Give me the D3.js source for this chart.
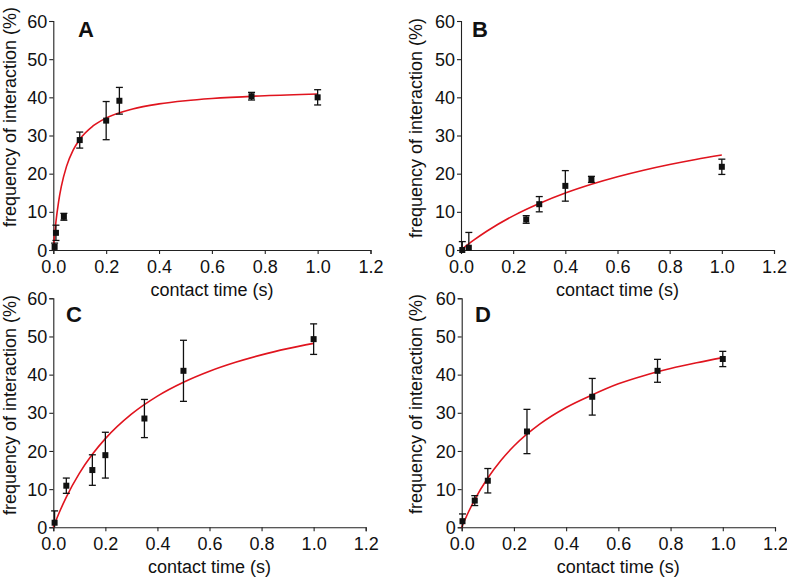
<!DOCTYPE html>
<html>
<head>
<meta charset="utf-8">
<script src="https://cdn.jsdelivr.net/npm/d3@7"></script>
<style>
  html, body { margin: 0; padding: 0; background: #fff; }
  svg { display: block; }
  text { font-family: "Liberation Sans", Arial, Helvetica, sans-serif; fill: #111; }
</style>
</head>
<body>
<script>
// ---------- data ----------
const xTickValues = [0, 0.2, 0.4, 0.6, 0.8, 1.0, 1.2];
const yTickValues = [0, 10, 20, 30, 40, 50, 60];
const panelLetters = ["A", "B", "C", "D"];
const xAxisTitle = "contact time (s)";
const yAxisTitle = "frequency of interaction (%)";

// Panel A
const aTime = [0.005, 0.01, 0.04, 0.1, 0.2, 0.25, 0.75, 1.0];
const aFreq = [0.8, 4.5, 8.7, 28.8, 33.9, 39.1, 40.3, 40.0];
const aErr  = [1.0, 2.0, 0.9, 2.1, 5.0, 3.5, 1.0, 2.0];
const aFitTime = [0, 0.005, 0.01, 0.02, 0.03, 0.05, 0.075, 0.1, 0.15, 0.2, 0.3, 0.4, 0.5, 0.6, 0.8, 1.0];
const aFitFreq = [0, 4.06, 7.41, 12.64, 16.52, 21.91, 26.17, 28.99, 32.49, 34.58, 36.96, 38.28, 39.11, 39.69, 40.43, 40.89];

// Panel B
const bTime = [0.005, 0.03, 0.25, 0.3, 0.4, 0.5, 1.0];
const bFreq = [0.0, 0.6, 8.0, 12.0, 16.8, 18.5, 21.8];
const bErr  = [2.2, 4.0, 1.0, 2.0, 4.0, 0.8, 2.0];
const bFitTime = [0, 0.05, 0.1, 0.2, 0.3, 0.4, 0.5, 0.6, 0.7, 0.8, 0.9, 1.0];
const bFitFreq = [0, 2.63, 4.97, 8.95, 12.19, 14.92, 17.22, 19.2, 20.91, 22.41, 23.73, 24.9];

// Panel C
const cTime = [0.005, 0.05, 0.15, 0.2, 0.35, 0.5, 1.0];
const cFreq = [1.2, 10.9, 15.0, 18.9, 28.5, 41.0, 49.3];
const cErr  = [3.1, 2.0, 4.0, 6.0, 5.0, 8.0, 4.0];
const cFitTime = [0, 0.025, 0.05, 0.1, 0.15, 0.2, 0.3, 0.4, 0.5, 0.6, 0.7, 0.8, 0.9, 1.0];
const cFitFreq = [0, 4.2, 7.9, 14.11, 19.12, 23.24, 29.64, 34.37, 38.0, 40.89, 43.23, 45.18, 46.81, 48.2];

// Panel D
const dTime = [0.003, 0.05, 0.1, 0.25, 0.5, 0.75, 1.0];
const dFreq = [1.6, 7.0, 12.2, 25.1, 34.2, 41.0, 44.1];
const dErr  = [1.9, 1.3, 3.2, 5.8, 4.8, 3.0, 2.0];
const dFitTime = [0, 0.025, 0.05, 0.1, 0.15, 0.2, 0.3, 0.4, 0.5, 0.6, 0.7, 0.8, 0.9, 1.0];
const dFitFreq = [0, 3.87, 7.27, 12.9, 17.5, 21.3, 27.1, 31.4, 34.7, 37.6, 39.8, 41.6, 43.1, 44.45];

// ---------- layout (not data) ----------
const W = 787, H = 580;
const layout = [
  { x0: 53.3, x1: 370.5, y0: 250, y1: 21,    letterX: 78,  letterY: 37,  titleX: 15.7,  titleY: 227 },
  { x0: 461,  x1: 774,   y0: 250, y1: 21,    letterX: 472, letterY: 37,  titleX: 421.5, titleY: 238 },
  { x0: 53.3, x1: 365.7, y0: 527.3, y1: 298.3, letterX: 66,  letterY: 322, titleX: 15.7,  titleY: 515 },
  { x0: 461.7, x1: 775,  y0: 527.3, y1: 298.3, letterX: 475, letterY: 322, titleX: 421.5, titleY: 514 }
];
const panelData = [
  { t: aTime, f: aFreq, e: aErr, ft: aFitTime, ff: aFitFreq },
  { t: bTime, f: bFreq, e: bErr, ft: bFitTime, ff: bFitFreq },
  { t: cTime, f: cFreq, e: cErr, ft: cFitTime, ff: cFitFreq },
  { t: dTime, f: dFreq, e: dErr, ft: dFitTime, ff: dFitFreq }
];

const svg = d3.select("body").append("svg").attr("width", W).attr("height", H);

panelData.forEach((pd, i) => {
  const L = layout[i];
  const x = d3.scaleLinear().domain([0, 1.2]).range([L.x0, L.x1]);
  const y = d3.scaleLinear().domain([0, 60]).range([L.y0, L.y1]);
  const g = svg.append("g");

  // axes
  const xAxis = d3.axisBottom(x).tickValues(xTickValues).tickFormat(d3.format(".1f")).tickSizeOuter(0).tickSize(4).tickPadding(5);
  const yAxis = d3.axisLeft(y).tickValues(yTickValues).tickFormat(d3.format("d")).tickSizeOuter(0).tickSize(4).tickPadding(2);

  const gx = g.append("g").attr("transform", `translate(0,${L.y0})`).call(xAxis);
  const gy = g.append("g").attr("transform", `translate(${L.x0},0)`).call(yAxis);
  [gx, gy].forEach(a => {
    a.select(".domain").attr("stroke", "#222").attr("stroke-width", 1.1);
    a.selectAll(".tick line").attr("stroke", "#222").attr("stroke-width", 1.1);
    a.selectAll(".tick text").attr("font-size", 18).attr("fill", "#111")
      .attr("font-family", '"Liberation Sans", Arial, sans-serif');
  });
  gx.selectAll(".tick text").attr("dy", null).attr("y", 23).attr("dominant-baseline", null);
  gy.selectAll(".tick text").attr("dy", "0.34em");

  // axis titles
  g.append("text")
    .attr("x", (L.x0 + L.x1) / 2).attr("y", L.y0 + 46)
    .attr("text-anchor", "middle").attr("font-size", 18)
    .text(xAxisTitle);
  g.append("text")
    .attr("transform", `translate(${L.titleX},${L.titleY}) rotate(-90)`)
    .attr("text-anchor", "start").attr("font-size", 18)
    .text(yAxisTitle);

  // panel letter
  g.append("text")
    .attr("x", L.letterX).attr("y", L.letterY)
    .attr("font-size", 22).attr("font-weight", "bold")
    .text(panelLetters[i]);

  // fit curve
  const fit = pd.ft.map((t, k) => [t, pd.ff[k]]);
  g.append("path")
    .datum(fit)
    .attr("fill", "none").attr("stroke", "#e0141e").attr("stroke-width", 1.6)
    .attr("d", d3.line().x(d => x(d[0])).y(d => y(d[1])).curve(d3.curveMonotoneX));

  // error bars + markers
  const pts = pd.t.map((t, k) => ({ t, v: pd.f[k], e: pd.e[k] }));
  const capW = 3.5;
  const eg = g.append("g").attr("stroke", "#111").attr("stroke-width", 1.3);
  pts.forEach(p => {
    const lo = Math.max(0, p.v - p.e), hi = p.v + p.e;
    const px = x(p.t);
    eg.append("line").attr("x1", px).attr("x2", px).attr("y1", y(lo)).attr("y2", y(hi));
    eg.append("line").attr("x1", px - capW).attr("x2", px + capW).attr("y1", y(hi)).attr("y2", y(hi));
    if (p.v - p.e >= 0) {
      eg.append("line").attr("x1", px - capW).attr("x2", px + capW).attr("y1", y(lo)).attr("y2", y(lo));
    }
  });
  g.append("g").selectAll("rect").data(pts).join("rect")
    .attr("x", d => x(d.t) - 3).attr("y", d => y(d.v) - 3)
    .attr("width", 6).attr("height", 6).attr("fill", "#111");
});
</script>
</body>
</html>
